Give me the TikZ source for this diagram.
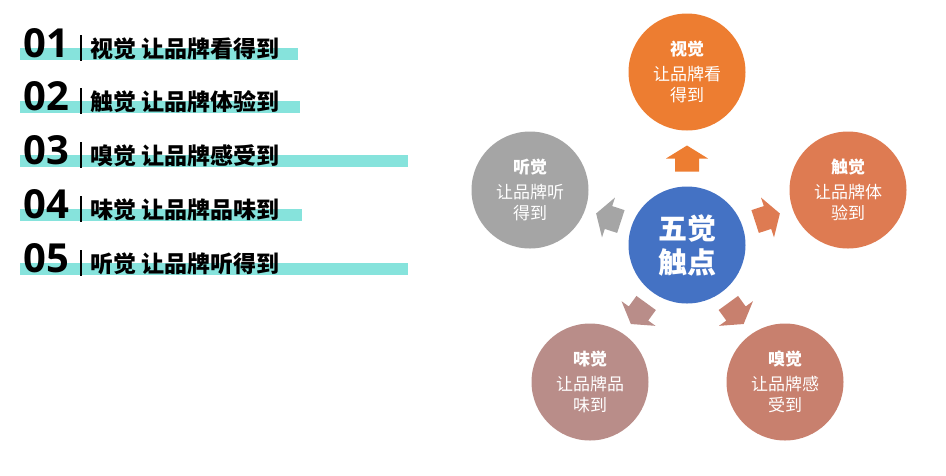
\documentclass[tikz,border=0pt]{standalone}
\usepackage{fontspec}
\setmainfont{Noto Sans CJK SC}
\newfontfamily\numfont{Open Sans}
\usetikzlibrary{calc}
\definecolor{barteal}{HTML}{86E3DC}
\definecolor{cblue}{HTML}{4472C4}
\definecolor{corange}{HTML}{ED7D31}
\definecolor{crust}{HTML}{DE7B52}
\definecolor{cclay}{HTML}{C8806E}
\definecolor{cmauve}{HTML}{B98D89}
\definecolor{cgray}{HTML}{A5A5A5}
\tikzset{
  bubble/.style={circle,fill=#1,minimum size=117pt,inner sep=0,text=white,align=center,font=\fontsize{17}{21}\selectfont},
  rowtext/.style={anchor=base west,inner sep=0,font=\bfseries\fontsize{23}{26}\selectfont},
  rownum/.style={anchor=base west,inner sep=0,font=\numfont\bfseries\fontsize{40}{42}\selectfont}
}
\newcommand{\pointer}[3]{% position, angle, colour
  \fill[#3,shift={#1},rotate=#2] (-13,-12) -- (0,-12) -- (0,-21) -- (13,0) -- (0,21) -- (0,12) -- (-13,12) -- cycle;}
\begin{document}
\begin{tikzpicture}[x=1pt,y=-1pt]
    \useasboundingbox (0,0) rectangle (946,475);
    % list on the left
    \foreach \n/\y/\w/\t in {01/57/298/视觉 让品牌看得到,02/110/300/触觉 让品牌体验到,03/164/408/嗅觉 让品牌感受到,04/218/302/味觉 让品牌品味到,05/272/408/听觉 让品牌听得到}{
        \fill[barteal] (20,\y-9) rectangle (\w,\y+3);
        \node[rownum] (num\n) at (23,\y) {\n};
        \draw[line width=1.3pt] (81,\y-22) -- (81,\y+4);
        \node[rowtext] (txt\n) at (90,\y) {\t};
    }
    % five senses
    \node[bubble=cblue,font=\bfseries\fontsize{29}{34}\selectfont] (core) at (687,245) {五觉\\触点};
    \node[bubble=corange] (sight) at (687,72) {\textbf{视觉}\\[4pt]让品牌看\\得到};
    \node[bubble=crust] (touch) at (848,190) {\textbf{触觉}\\[4pt]让品牌体\\验到};
    \node[bubble=cclay] (smell) at (785,382) {\textbf{嗅觉}\\[4pt]让品牌感\\受到};
    \node[bubble=cmauve] (taste) at (590,382) {\textbf{味觉}\\[4pt]让品牌品\\味到};
    \node[bubble=cgray] (hear) at (530,190) {\textbf{听觉}\\[4pt]让品牌听\\得到};
    \pointer{($(core)!0.5!(sight)$)}{90}{corange}
    \pointer{($(core)!0.5!(touch)$)}{18}{crust}
    \pointer{($(core)!0.5!(smell)$)}{-54}{cclay}
    \pointer{($(core)!0.5!(taste)$)}{-126}{cmauve}
    \pointer{($(core)!0.5!(hear)$)}{162}{cgray}
\end{tikzpicture}
\end{document}
